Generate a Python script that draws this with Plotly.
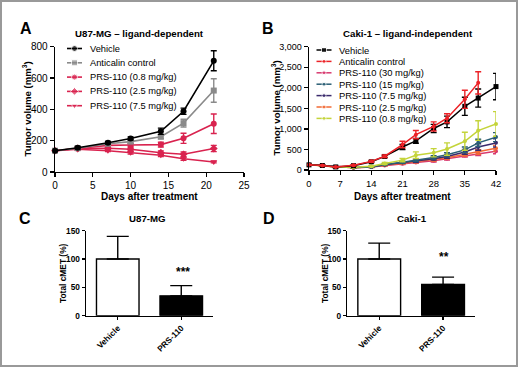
import plotly.graph_objects as go

FONT = "Liberation Sans, Arial, Helvetica, sans-serif"

# ---------------- Panel A: U87-MG (ligand-dependent) ----------------
a_days = [0, 3, 7, 10, 14, 17, 21]
a_vehicle = [136, 155, 187, 214, 260, 388, 710]
a_vehicle_err = [5, 8, 8, 10, 20, 20, 64]
a_anticalin = [136, 152, 180, 194, 225, 312, 520]
a_anticalin_err = [5, 8, 8, 10, 12, 25, 75]
a_prs08 = [136, 150, 170, 172, 175, 215, 308]
a_prs08_err = [5, 8, 8, 10, 15, 32, 62]
a_prs25 = [136, 150, 152, 145, 123, 113, 150]
a_prs25_err = [5, 6, 6, 10, 12, 15, 20]
a_prs75 = [136, 145, 136, 123, 107, 85, 64]
a_prs75_err = [5, 6, 6, 8, 8, 10, 6]

a_names = ["Vehicle", "Anticalin control", "PRS-110 (0.8 mg/kg)",
           "PRS-110 (2.5 mg/kg)", "PRS-110 (7.5 mg/kg)"]

# ---------------- Panel B: Caki-1 (ligand-independent) ----------------
b_days = [0, 3, 6, 10, 14, 17, 21, 24, 28, 31, 35, 38, 42]
b_vehicle = [125, 110, 75, 105, 200, 330, 560, 710, 1010, 1170, 1550, 1750, 2030]
b_vehicle_err = [10, 10, 10, 15, 20, 30, 60, 60, 100, 140, 220, 220, 320]
b_anticalin = [125, 110, 75, 115, 210, 335, 620, 860, 1060, 1260, 1720, 2120]
b_anticalin_err = [10, 10, 10, 15, 20, 30, 80, 100, 110, 110, 220, 270]
b_prs30 = [125, 105, 70, 55, 70, 110, 155, 185, 225, 275, 355, 400, 455]
b_prs30_err = [8, 8, 8, 8, 10, 15, 20, 25, 30, 35, 40, 50, 60]
b_prs15 = [125, 105, 70, 60, 75, 135, 190, 235, 305, 370, 490, 660, 800]
b_prs15_err = [8, 8, 8, 8, 10, 15, 25, 30, 40, 50, 70, 90, 110]
b_prs75 = [125, 105, 70, 60, 75, 130, 180, 215, 275, 330, 440, 560, 660]
b_prs75_err = [8, 8, 8, 8, 10, 15, 20, 25, 35, 45, 60, 80, 100]
b_prs25 = [125, 105, 70, 55, 70, 120, 165, 200, 250, 300, 385, 440, 530]
b_prs25_err = [8, 8, 8, 8, 10, 15, 20, 25, 30, 35, 45, 55, 70]
b_prs08 = [125, 105, 70, 65, 90, 160, 240, 360, 420, 510, 700, 960, 1120]
b_prs08_err = [8, 8, 8, 10, 15, 25, 40, 80, 100, 150, 220, 240, 300]

b_names = ["Vehicle", "Anticalin control", "PRS-110 (30 mg/kg)", "PRS-110 (15 mg/kg)",
           "PRS-110 (7.5 mg/kg)", "PRS-110 (2.5 mg/kg)", "PRS-110 (0.8 mg/kg)"]

# ---------------- Panels C / D: Total cMET ----------------
bar_categories = ["Vehicle", "PRS-110"]
c_values = [100, 35]
c_err = [40, 18]
d_values = [100, 55]
d_err = [28, 13]

# ---------------- styles ----------------
A_COLORS = ["#000000", "#8a8a8a", "#d9234f", "#d9234f", "#d9234f"]
A_SYMBOLS = ["circle", "square", "circle", "diamond", "triangle-down"]
B_COLORS = ["#000000", "#ec2227", "#d8396f", "#2a5e74", "#3a2a6c", "#f26a35", "#c4d43a"]
B_SYMBOLS = ["square", "circle", "circle", "circle", "circle", "circle", "circle"]

fig = go.Figure()

a_series = [(a_vehicle, a_vehicle_err), (a_anticalin, a_anticalin_err), (a_prs08, a_prs08_err),
            (a_prs25, a_prs25_err), (a_prs75, a_prs75_err)]
for i in [4, 3, 2, 1, 0]:
    vals, errs = a_series[i]
    fig.add_trace(go.Scatter(
        x=a_days, y=vals, mode="lines+markers", name=a_names[i], showlegend=False,
        line=dict(color=A_COLORS[i], width=1.6),
        marker=dict(color=A_COLORS[i], symbol=A_SYMBOLS[i], size=6),
        error_y=dict(type="data", array=errs, color=A_COLORS[i], thickness=1.4, width=3),
        cliponaxis=False, xaxis="x", yaxis="y"))

b_series = [(b_vehicle, b_vehicle_err), (b_anticalin, b_anticalin_err), (b_prs30, b_prs30_err),
            (b_prs15, b_prs15_err), (b_prs75, b_prs75_err), (b_prs25, b_prs25_err),
            (b_prs08, b_prs08_err)]
for i in [2, 5, 4, 3, 6, 0, 1]:
    vals, errs = b_series[i]
    fig.add_trace(go.Scatter(
        x=b_days[:len(vals)], y=vals, mode="lines+markers", name=b_names[i], showlegend=False,
        line=dict(color=B_COLORS[i], width=1.5),
        marker=dict(color=B_COLORS[i], symbol=B_SYMBOLS[i], size=5 if i == 0 else 4),
        error_y=dict(type="data", array=errs, color=B_COLORS[i], thickness=1.4, width=3),
        cliponaxis=False, xaxis="x2", yaxis="y2"))

for vals, errs, xa, ya in [(c_values, c_err, "x3", "y3"), (d_values, d_err, "x4", "y4")]:
    fig.add_trace(go.Bar(
        x=bar_categories, y=vals, width=0.67, showlegend=False,
        marker=dict(color=["white", "black"], line=dict(color="black", width=1.4)),
        error_y=dict(type="data", symmetric=False, array=errs, arrayminus=[0, 0],
                     color="black", thickness=1.4, width=11),
        xaxis=xa, yaxis=ya))

# ---------------- hand-drawn legends (overlay pixel axis) ----------------
legend_a_x0, legend_a_x1, legend_a_text = 67, 82, 88
legend_a_y0, legend_a_step = 48.5, 14.3
for k in range(5):
    yy = legend_a_y0 + k * legend_a_step
    fig.add_trace(go.Scatter(
        x=[legend_a_x0, (legend_a_x0 + legend_a_x1) / 2, legend_a_x1], y=[yy] * 3,
        mode="lines+markers", showlegend=False, hoverinfo="skip",
        line=dict(color=A_COLORS[k], width=1.6),
        marker=dict(color=A_COLORS[k], symbol=A_SYMBOLS[k], size=[0, 6, 0]),
        xaxis="x5", yaxis="y5"))

legend_b_x0, legend_b_x1, legend_b_text = 316.5, 331.5, 337
legend_b_y0, legend_b_step = 50, 11.4
for k in range(7):
    yy = legend_b_y0 + k * legend_b_step
    fig.add_trace(go.Scatter(
        x=[legend_b_x0, (legend_b_x0 + legend_b_x1) / 2, legend_b_x1], y=[yy] * 3,
        mode="lines+markers", showlegend=False, hoverinfo="skip",
        line=dict(color=B_COLORS[k], width=1.5),
        marker=dict(color=B_COLORS[k], symbol=B_SYMBOLS[k], size=[0, 5 if k == 0 else 4, 0]),
        xaxis="x5", yaxis="y5"))

W, H = 520, 368


def px_x(v):
    return v / W


def px_y(v):
    return 1 - v / H


def axis(**kw):
    base = dict(showline=True, linecolor="black", linewidth=1.4, ticks="outside",
                ticklen=4, tickwidth=1.3, tickcolor="black", showgrid=False, zeroline=False,
                automargin=False,
                tickfont=dict(family=FONT, size=10, color="black"), fixedrange=True)
    base.update(kw)
    return base


annotations = []


def ann(x, y, text, size, angle=0, xanchor="center", yanchor="middle", bold=True):
    annotations.append(dict(
        x=x, y=y, xref="x5", yref="y5", text=text,
        showarrow=False, textangle=angle, xanchor=xanchor, yanchor=yanchor,
        font=dict(family=FONT, size=size, color="black",
                  weight="bold" if bold else "normal")))


# panel letters and titles
ann(26, 28, "A", 16)
ann(268, 28, "B", 16)
ann(25, 218, "C", 16)
ann(269, 218, "D", 16)
ann(139, 33, "U87-MG – ligand-dependent", 9.7)
ann(408, 33, "Caki-1 – ligand-independent", 9.7)
ann(147, 218, "U87-MG", 9.7)
ann(412, 218, "Caki-1", 9.7)
# axis titles
ann(26, 109.5, "Tumor volume (mm<sup>3</sup>)", 9.6, angle=-90)
ann(275, 108.5, "Tumor volume (mm<sup>3</sup>)", 9.6, angle=-90)
ann(149.5, 196, "Days after treatment", 10)
ann(402.5, 196, "Days after treatment", 10)
ann(63, 273, "Total cMET (%)", 8.4, angle=-90)
ann(325, 273, "Total cMET (%)", 8.4, angle=-90)
# significance stars
ann(182.5, 272, "***", 12)
ann(443.5, 257, "**", 12)
# legend texts
for k, name in enumerate(a_names):
    ann(legend_a_text, legend_a_y0 + k * legend_a_step, name, 9.3, xanchor="left", bold=False)
for k, name in enumerate(b_names):
    ann(legend_b_text, legend_b_y0 + k * legend_b_step, name, 9.4, xanchor="left", bold=False)

bar_tickfont = dict(family=FONT, size=8.3, color="black", weight="bold")

fig.update_layout(
    template="none",
    width=W, height=H, margin=dict(l=0, r=0, t=0, b=0, pad=0, autoexpand=False),
    paper_bgcolor="white", plot_bgcolor="rgba(0,0,0,0)", showlegend=False,
    xaxis=axis(domain=[px_x(55), px_x(244)], range=[0, 25], tickvals=[0, 5, 10, 15, 20, 25],
               anchor="y"),
    yaxis=axis(domain=[px_y(172), px_y(46.7)], range=[0, 800], tickvals=[0, 200, 400, 600, 800],
               anchor="x"),
    xaxis2=axis(domain=[px_x(309), px_x(496)], range=[0, 42], tickvals=[0, 7, 14, 21, 28, 35, 42],
                anchor="y2", tickfont=dict(family=FONT, size=9.5, color="black")),
    yaxis2=axis(domain=[px_y(170), px_y(46.7)], range=[0, 3000],
                tickvals=[0, 500, 1000, 1500, 2000, 2500, 3000], tickformat=",d", anchor="x2",
                tickfont=dict(family=FONT, size=9, color="black")),
    xaxis3=axis(domain=[px_x(86), px_x(213)], type="category", range=[-0.5, 1.5], tickangle=-45,
                anchor="y3", tickfont=bar_tickfont, ticklen=3),
    yaxis3=axis(domain=[px_y(315.7), px_y(230.7)], range=[0, 150], tickvals=[0, 50, 100, 150],
                anchor="x3", tickfont=bar_tickfont, ticklen=3),
    xaxis4=axis(domain=[px_x(347.3), px_x(475)], type="category", range=[-0.5, 1.5], tickangle=-45,
                anchor="y4", tickfont=bar_tickfont, ticklen=3),
    yaxis4=axis(domain=[px_y(315.7), px_y(230.7)], range=[0, 150], tickvals=[0, 50, 100, 150],
                anchor="x4", tickfont=bar_tickfont, ticklen=3),
    xaxis5=dict(domain=[0, 1], range=[0, W], visible=False, fixedrange=True, anchor="y5",
                automargin=False),
    yaxis5=dict(domain=[0, 1], range=[H, 0], visible=False, fixedrange=True, anchor="x5",
                automargin=False),
    annotations=annotations,
    shapes=[dict(type="rect", xref="x5", yref="y5", x0=1, x1=517, y0=1, y1=366,
                 line=dict(color="#999999", width=2), fillcolor="rgba(0,0,0,0)", layer="above")],
)

fig.write_html("out.html", config={"displayModeBar": False, "staticPlot": True},
               post_script="document.body.style.margin='0px';")
